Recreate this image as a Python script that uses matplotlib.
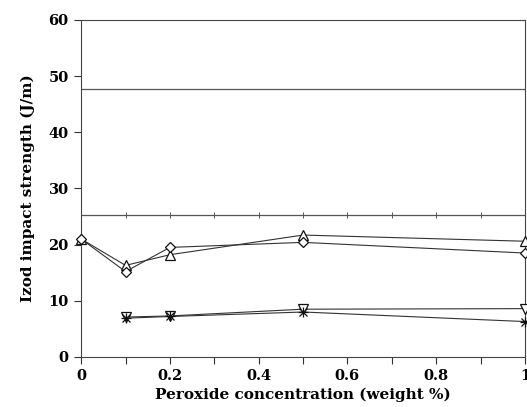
import matplotlib
matplotlib.use("Agg")
import matplotlib.pyplot as plt

# peroxide concentration (weight %)
x_top = [0, 0.1, 0.2, 0.5, 1.0]
diamond = [21.0, 15.2, 19.5, 20.4, 18.5]
tri_up = [21.0, 16.3, 18.2, 21.7, 20.6]
x_low = [0.1, 0.2, 0.5, 1.0]
tri_down = [7.1, 7.3, 8.5, 8.6]
star = [6.9, 7.2, 8.0, 6.3]
rule_levels = [47.7, 25.3]
minor_x = [0.1, 0.2, 0.3, 0.4, 0.5, 0.6, 0.7, 0.8, 0.9]

plt.rcParams["font.family"] = "DejaVu Serif"
plt.rcParams["font.weight"] = "bold"

fig = plt.figure(figsize=(5.27, 4.07), dpi=100)
ax = fig.add_axes([0.154, 0.123, 0.842, 0.828])

lc = "#333333"
kw = dict(color=lc, lw=0.8, mfc="white", mec="#111111", mew=0.9, ms=7, clip_on=False, zorder=3)
ax.plot(x_top, tri_up, marker="^", **kw)
ax.plot(x_top, diamond, marker="D", **dict(kw, ms=5.5))
ax.plot(x_low, tri_down, marker="v", **kw)
ax.plot(x_low, star, marker="x", **dict(kw, ms=6))
ax.plot(x_low, star, marker="+", **dict(kw, ms=7, lw=0))

for lv in rule_levels:
    ax.axhline(lv, color="#555555", lw=0.9, zorder=1)
ax.plot(minor_x, [rule_levels[1]] * len(minor_x), ls="none", marker="|",
        color="#555555", ms=4, mew=0.7)

ax.set_xlim(0, 1)
ax.set_ylim(0, 60)
ax.set_xticks([0, 0.2, 0.4, 0.6, 0.8, 1.0])
ax.set_xticklabels(["0", "0.2", "0.4", "0.6", "0.8", "1"])
ax.set_xticks(minor_x, minor=True)
ax.set_yticks([0, 10, 20, 30, 40, 50, 60])
ax.tick_params(direction="out", length=5, width=0.8, labelsize=10.5, color="#333333", pad=4)
ax.tick_params(which="minor", direction="out", length=5, width=0.8, color="#333333")
for lab in ax.get_xticklabels() + ax.get_yticklabels():
    lab.set_fontweight("bold")

for s in ax.spines.values():
    s.set_linewidth(0.8)
    s.set_color("#444444")

ax.set_xlabel("Peroxide concentration (weight %)", fontsize=11, fontweight="bold", labelpad=3)
ax.set_ylabel("Izod impact strength (J/m)", fontsize=11, fontweight="bold", labelpad=10)

fig.savefig("out.png", dpi=100, facecolor="white")
